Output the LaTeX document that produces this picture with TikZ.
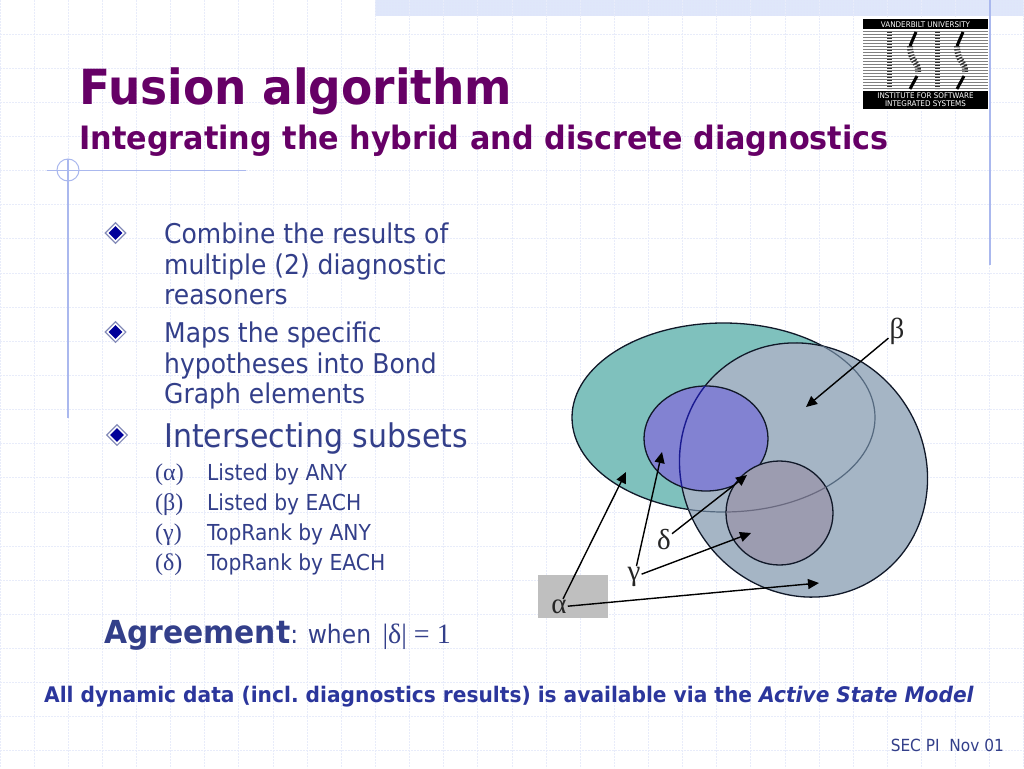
\documentclass[tikz,border=0pt]{standalone}
\usepackage{fontspec}
\usetikzlibrary{arrows.meta,shapes.geometric,patterns}
\newfontfamily\tah[FakeStretch=0.92]{DejaVu Sans}
\newfontfamily\tahb[FakeStretch=0.94]{DejaVu Sans Bold}
\newfontfamily\tahbi[FakeStretch=0.94]{DejaVu Sans Bold Oblique}
\newfontfamily\sym{Liberation Serif}
\frenchspacing
\definecolor{ttl}{HTML}{660066}
\definecolor{bod}{HTML}{333F8A}
\definecolor{rule}{HTML}{AAB8EE}
\definecolor{gridc}{HTML}{E8ECFA}
\definecolor{band}{HTML}{DFE7FA}
\definecolor{setA}{HTML}{7FC1BD}
\definecolor{setB}{HTML}{A5B5C5}
\definecolor{setG}{HTML}{8282D2}
\definecolor{setD}{HTML}{9C9CB0}
\definecolor{lineA}{HTML}{55697F}
\definecolor{lineB}{HTML}{1A1A90}
\definecolor{lineD}{HTML}{6A6A80}
\definecolor{outl}{HTML}{101828}
\tikzset{
 ttlA/.style={anchor=base west,inner sep=0,text=ttl,font=\tahb\fontsize{48.4}{48.4}\selectfont},
 ttlB/.style={anchor=base west,inner sep=0,text=ttl,font=\tahb\fontsize{32.2}{32.2}\selectfont},
 bodyL/.style={anchor=base west,inner sep=0,text=bod,font=\tah\fontsize{27.2}{27.2}\selectfont},
 subL/.style={anchor=base west,inner sep=0,text=bod,font=\tah\fontsize{22}{22}\selectfont},
 gk/.style={anchor=base west,inner sep=0,text=bod,font=\sym\fontsize{24}{24}\selectfont},
 bigL/.style={anchor=base west,inner sep=0,text=bod,font=\tah\fontsize{32.6}{32.6}\selectfont},
 bul/.style={diamond,aspect=1,draw=bod!60,fill=white,line width=1.1pt,minimum size=21pt,inner sep=0},
 bulin/.style={diamond,aspect=1,fill=blue!60!black,minimum size=14pt,inner sep=0},
 gl/.style={inner sep=1pt,font=\sym\fontsize{29}{29}\selectfont,text=black!85},
 arr/.style={-{Triangle[length=11pt,width=10pt]},line width=1.4pt,draw=black,fill=black},
 setline/.style={line width=1.3pt,draw=outl},
 lg/.style={text=white,inner sep=0,font=\tah\fontsize{7.8}{7.8}\selectfont}
}
\begin{document}
\begin{tikzpicture}[x=1pt,y=-1pt]
\useasboundingbox (0,0) rectangle (1024,768);
\fill[white] (0,0) rectangle (1024,768);
% top band
\fill[band] (375,0) rectangle (1024,16);
\fill[pattern=dots,pattern color=blue!12!white] (375,0) rectangle (1024,16);
% grid
\foreach \k in {0,...,30} \draw[gridc,line width=.9pt,dash pattern=on 2pt off 1pt] ({34.13*\k},0) -- ({34.13*\k},768);
\foreach \k in {1,...,22} \draw[gridc,line width=.9pt,dash pattern=on 2pt off 1pt] (0,{34.13*\k}) -- (1024,{34.13*\k});
% frame marks
\draw[rule,line width=1pt] (47,170) -- (246,170);
\draw[rule,line width=1.2pt] (68,159) -- (68,418);
\draw[rule,line width=1pt] (68,170) circle[radius=11];
\draw[rule,line width=1.2pt] (990,0) -- (990,265);
% logo
\fill[white] (860,17) rectangle (989,111);
\fill[black!50] (863,28) rectangle (988,92);
\foreach \k in {0,...,20} \draw[white,line width=1.5pt] (863,{30+3*\k}) -- (988,{30+3*\k});
\foreach \cx in {889,937} {
 \draw[black!80,line width=5pt,dash pattern=on 1.4pt off 1.6pt] (\cx,32) -- (\cx,89);
}
\foreach \cx in {911,958} {
 \draw[black,line width=3pt] (\cx+5,32) -- (\cx-1,46);
 \draw[black!80,line width=6pt,dash pattern=on 1.4pt off 1.6pt] (\cx-1,46) .. controls (\cx-1,62) and (\cx+8,62) .. (\cx+7,72);
 \draw[black,line width=3pt] (\cx+6,76) -- (\cx-1,89);
}
\fill[black] (863,19) rectangle (988,29);
\fill[black] (863,91) rectangle (988,109);
\node[lg] (lgA) at (925.5,24.5) {VANDERBILT UNIVERSITY};
\node[lg] (lgB) at (925.5,96) {INSTITUTE FOR SOFTWARE};
\node[lg] (lgC) at (925.5,104) {INTEGRATED SYSTEMS};
% titles
\node[ttlA] (t1) at (79,104) {Fusion algorithm};
\node[ttlB] (t2) at (79,149) {Integrating the hybrid and discrete diagnostics};
% bullets
\node[bul] (b1) at (115.5,233) {}; \node[bulin] (b1i) at (115.5,233) {};
\node[bul] (b2) at (115.5,332) {}; \node[bulin] (b2i) at (115.5,332) {};
\node[bul] (b3) at (117,435) {}; \node[bulin] (b3i) at (117,435) {};
\node[bodyL] (l1) at (164,243) {Combine the results of};
\node[bodyL] (l2) at (164,274) {multiple (2) diagnostic};
\node[bodyL] (l3) at (164,304) {reasoners};
\node[bodyL] (l4) at (164,342) {Maps the specific};
\node[bodyL] (l5) at (164,373) {hypotheses into Bond};
\node[bodyL] (l6) at (164,403) {Graph elements};
\node[bigL] (l7) at (164,447) {Intersecting subsets};
\node[gk] (g1) at (155,480) {(α)};
\node[gk] (g2) at (155,510) {(β)};
\node[gk] (g3) at (155,540) {(γ)};
\node[gk] (g4) at (155,570) {(δ)};
\node[subL] (s1) at (207,480) {Listed by ANY};
\node[subL] (s2) at (207,510) {Listed by EACH};
\node[subL] (s3) at (207,540) {TopRank by ANY};
\node[subL] (s4) at (207,570) {TopRank by EACH};
\node[anchor=base west,inner sep=0,text=bod] (ag) at (104,643) {{\tahb\fontsize{31.7}{31.7}\selectfont Agreement}{\tah\fontsize{25.5}{25.5}\selectfont: \hspace{2pt}when \hspace{4pt}}{\sym\fontsize{28}{28}\selectfont |δ|\ =\ 1}};
\node[anchor=base west,inner sep=0,text=bod!85!blue] (foot) at (44,702) {{\tahb\fontsize{21.47}{21.47}\selectfont All dynamic data (incl. diagnostics results) is available via the }{\tahbi\fontsize{21.47}{21.47}\selectfont Active State Model}};
\node[anchor=base east,inner sep=0,text=bod,font=\tah\fontsize{16.7}{16.7}\selectfont] (sec) at (1004,751) {SEC PI\ \ Nov 01};
% sets
\path (723.5,417.5) coordinate (cA) (803.5,470) coordinate (cB) (706,438.5) coordinate (cG) (779.5,513) coordinate (cD);
\fill[black!25] (538,575) rectangle (608,618);
\filldraw[fill=setA,setline] (cA) ellipse[x radius=151.5,y radius=94.5];
\filldraw[fill=setB,setline,rotate around={35:(cB)}] (cB) ellipse[x radius=121,y radius=130];
\begin{scope}
 \clip[rotate around={35:(cB)}] (cB) ellipse[x radius=121,y radius=130];
 \draw[line width=1.2pt,lineA] (cA) ellipse[x radius=151.5,y radius=94.5];
\end{scope}
\filldraw[fill=setG,setline] (cG) ellipse[x radius=62,y radius=52.5];
\begin{scope}
 \clip (cG) ellipse[x radius=62,y radius=52.5];
 \draw[line width=1.4pt,lineB,rotate around={35:(cB)}] (cB) ellipse[x radius=121,y radius=130];
\end{scope}
\filldraw[fill=setD,setline] (cD) ellipse[x radius=53.5,y radius=52];
\begin{scope}
 \clip (cD) ellipse[x radius=53.5,y radius=52];
 \draw[line width=1.2pt,lineD] (cA) ellipse[x radius=151.5,y radius=94.5];
\end{scope}
% labels + connectors
\node[gl] (alpha) at (559,607) {α};
\node[gl] (beta) at (897,331) {β};
\node[gl] (gamma) at (634,577) {γ};
\node[gl] (delta) at (664,540) {δ};
\coordinate (ta) at (626,472);
\coordinate (tb) at (819,583);
\coordinate (tc) at (806,407);
\coordinate (td) at (662,452);
\coordinate (te) at (751,533);
\coordinate (tf) at (747,475);
\draw[arr] (alpha) -- (ta);
\draw[arr] (alpha) -- (tb);
\draw[arr] (beta) -- (tc);
\draw[arr] (gamma) -- (td);
\draw[arr] (gamma) -- (te);
\draw[arr] (delta) -- (tf);
\end{tikzpicture}
\end{document}
